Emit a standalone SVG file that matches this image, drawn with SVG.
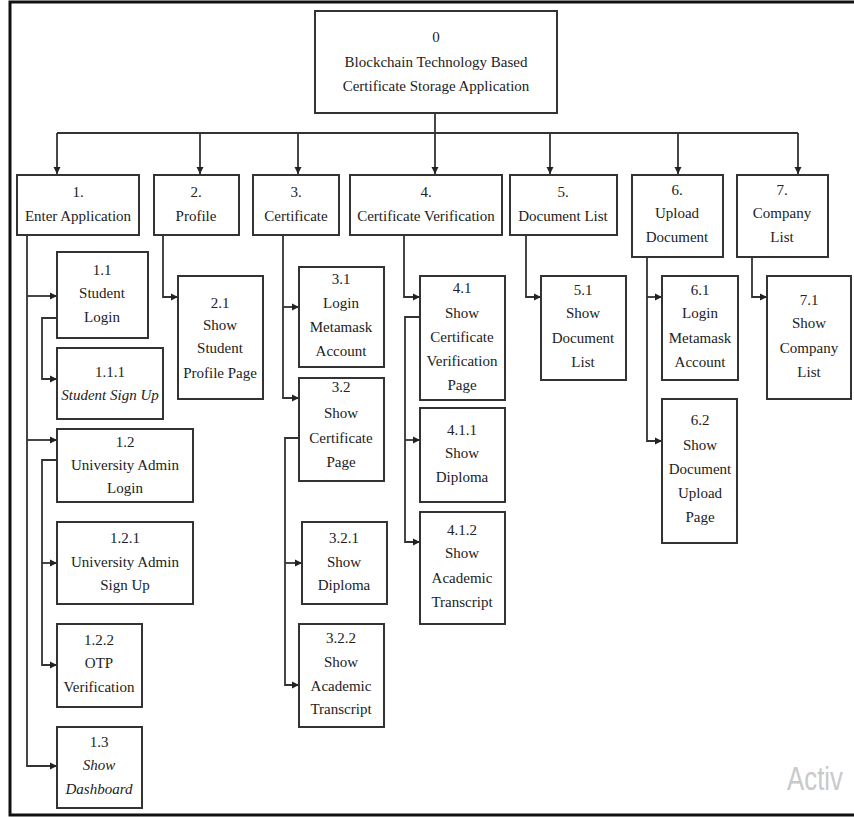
<svg xmlns="http://www.w3.org/2000/svg" width="854" height="817" viewBox="0 0 854 817">
<style>
.box{fill:#fff;stroke:#333;stroke-width:2}
.t{font-family:"Liberation Serif","Times New Roman",serif;font-size:15px;fill:#222;text-anchor:middle}
.i{font-style:italic}
.c{fill:none;stroke:#333;stroke-width:1.8}
.wm{font-family:"Liberation Sans","Open Sans",sans-serif;font-size:34px;fill:#c9c9c9}
</style>
<defs>
<marker id="ah" markerWidth="8" markerHeight="8" refX="7" refY="4" orient="auto" markerUnits="userSpaceOnUse">
<path d="M0,0.5 L7,4 L0,7.5 Z" fill="#222"/>
</marker>
</defs>
<rect x="10" y="2" width="860" height="813" fill="#fff" stroke="#111" stroke-width="3"/>
<g id="connectors">
<path class="c" d="M435 113 V133 M57 133 H798"/>
<path class="c" marker-end="url(#ah)" d="M57 133 V174"/>
<path class="c" marker-end="url(#ah)" d="M200 133 V174"/>
<path class="c" marker-end="url(#ah)" d="M298 133 V174"/>
<path class="c" marker-end="url(#ah)" d="M435 133 V174"/>
<path class="c" marker-end="url(#ah)" d="M550 133 V174"/>
<path class="c" marker-end="url(#ah)" d="M678 133 V174"/>
<path class="c" marker-end="url(#ah)" d="M798 133 V174"/>
<path class="c" marker-end="url(#ah)" d="M27 235 V766 H57"/>
<path class="c" marker-end="url(#ah)" d="M27 296 H57"/>
<path class="c" marker-end="url(#ah)" d="M27 440 H57"/>
<path class="c" marker-end="url(#ah)" d="M57 318 H42 V379 H57"/>
<path class="c" marker-end="url(#ah)" d="M57 460 H42 V665 H57"/>
<path class="c" marker-end="url(#ah)" d="M42 563 H57"/>
<path class="c" marker-end="url(#ah)" d="M163 235 V297 H178"/>
<path class="c" marker-end="url(#ah)" d="M283 235 V398 H299"/>
<path class="c" marker-end="url(#ah)" d="M283 307 H299"/>
<path class="c" marker-end="url(#ah)" d="M299 438 H285 V685 H299"/>
<path class="c" marker-end="url(#ah)" d="M285 563 H302"/>
<path class="c" marker-end="url(#ah)" d="M404 235 V297 H420"/>
<path class="c" marker-end="url(#ah)" d="M420 317 H405 V542 H420"/>
<path class="c" marker-end="url(#ah)" d="M405 440 H420"/>
<path class="c" marker-end="url(#ah)" d="M526 235 V297 H541"/>
<path class="c" marker-end="url(#ah)" d="M647 257 V441 H662"/>
<path class="c" marker-end="url(#ah)" d="M647 297 H662"/>
<path class="c" marker-end="url(#ah)" d="M752 257 V297 H767"/>
</g>
<g id="n0"><rect class="box" x="315" y="11" width="242" height="102"/>
<text class="t" x="436" y="42">0</text><text class="t" x="436" y="67">Blockchain Technology Based</text><text class="t" x="436" y="91">Certificate Storage Application</text></g>
<g id="n1"><rect class="box" x="17" y="175" width="122" height="60"/>
<text class="t" x="78" y="197">1.</text><text class="t" x="78" y="221">Enter Application</text></g>
<g id="n2"><rect class="box" x="154" y="175" width="85" height="60"/>
<text class="t" x="196" y="197">2.</text><text class="t" x="196" y="221">Profile</text></g>
<g id="n3"><rect class="box" x="253" y="175" width="86" height="60"/>
<text class="t" x="296" y="197">3.</text><text class="t" x="296" y="221">Certificate</text></g>
<g id="n4"><rect class="box" x="350" y="175" width="152" height="60"/>
<text class="t" x="426" y="197">4.</text><text class="t" x="426" y="221">Certificate Verification</text></g>
<g id="n5"><rect class="box" x="510" y="175" width="107" height="60"/>
<text class="t" x="563" y="197">5.</text><text class="t" x="563" y="221">Document List</text></g>
<g id="n6"><rect class="box" x="632" y="175" width="91" height="82"/>
<text class="t" x="677" y="195">6.</text><text class="t" x="677" y="218">Upload</text><text class="t" x="677" y="242">Document</text></g>
<g id="n7"><rect class="box" x="737" y="175" width="91" height="82"/>
<text class="t" x="782" y="195">7.</text><text class="t" x="782" y="218">Company</text><text class="t" x="782" y="242">List</text></g>
<g id="n1_1"><rect class="box" x="57" y="252" width="91" height="86"/>
<text class="t" x="102" y="275">1.1</text><text class="t" x="102" y="298">Student</text><text class="t" x="102" y="322">Login</text></g>
<g id="n1_1_1"><rect class="box" x="57" y="348" width="106" height="71"/>
<text class="t" x="110" y="377">1.1.1</text><text class="t i" x="110" y="400">Student Sign Up</text></g>
<g id="n1_2"><rect class="box" x="57" y="429" width="136" height="73"/>
<text class="t" x="125" y="447">1.2</text><text class="t" x="125" y="470">University Admin</text><text class="t" x="125" y="493">Login</text></g>
<g id="n1_2_1"><rect class="box" x="57" y="522" width="136" height="82"/>
<text class="t" x="125" y="543">1.2.1</text><text class="t" x="125" y="567">University Admin</text><text class="t" x="125" y="590">Sign Up</text></g>
<g id="n1_2_2"><rect class="box" x="57" y="624" width="85" height="83"/>
<text class="t" x="99" y="645">1.2.2</text><text class="t" x="99" y="668">OTP</text><text class="t" x="99" y="692">Verification</text></g>
<g id="n1_3"><rect class="box" x="57" y="727" width="85" height="81"/>
<text class="t" x="99" y="747">1.3</text><text class="t i" x="99" y="770">Show</text><text class="t i" x="99" y="794">Dashboard</text></g>
<g id="n2_1"><rect class="box" x="178" y="276" width="85" height="123"/>
<text class="t" x="220" y="308">2.1</text><text class="t" x="220" y="330">Show</text><text class="t" x="220" y="353">Student</text><text class="t" x="220" y="378">Profile Page</text></g>
<g id="n3_1"><rect class="box" x="299" y="267" width="85" height="100"/>
<text class="t" x="341" y="284">3.1</text><text class="t" x="341" y="308">Login</text><text class="t" x="341" y="332">Metamask</text><text class="t" x="341" y="356">Account</text></g>
<g id="n3_2"><rect class="box" x="299" y="378" width="85" height="103"/>
<text class="t" x="341" y="392">3.2</text><text class="t" x="341" y="418">Show</text><text class="t" x="341" y="443">Certificate</text><text class="t" x="341" y="467">Page</text></g>
<g id="n3_2_1"><rect class="box" x="302" y="522" width="85" height="82"/>
<text class="t" x="344" y="543">3.2.1</text><text class="t" x="344" y="567">Show</text><text class="t" x="344" y="590">Diploma</text></g>
<g id="n3_2_2"><rect class="box" x="299" y="624" width="85" height="103"/>
<text class="t" x="341" y="643">3.2.2</text><text class="t" x="341" y="667">Show</text><text class="t" x="341" y="691">Academic</text><text class="t" x="341" y="714">Transcript</text></g>
<g id="n4_1"><rect class="box" x="420" y="276" width="85" height="124"/>
<text class="t" x="462" y="293">4.1</text><text class="t" x="462" y="318">Show</text><text class="t" x="462" y="342">Certificate</text><text class="t" x="462" y="366">Verification</text><text class="t" x="462" y="390">Page</text></g>
<g id="n4_1_1"><rect class="box" x="420" y="408" width="85" height="94"/>
<text class="t" x="462" y="435">4.1.1</text><text class="t" x="462" y="458">Show</text><text class="t" x="462" y="482">Diploma</text></g>
<g id="n4_1_2"><rect class="box" x="420" y="512" width="85" height="112"/>
<text class="t" x="462" y="535">4.1.2</text><text class="t" x="462" y="558">Show</text><text class="t" x="462" y="583">Academic</text><text class="t" x="462" y="607">Transcript</text></g>
<g id="n5_1"><rect class="box" x="541" y="276" width="85" height="104"/>
<text class="t" x="583" y="295">5.1</text><text class="t" x="583" y="318">Show</text><text class="t" x="583" y="343">Document</text><text class="t" x="583" y="367">List</text></g>
<g id="n6_1"><rect class="box" x="662" y="276" width="76" height="104"/>
<text class="t" x="700" y="295">6.1</text><text class="t" x="700" y="318">Login</text><text class="t" x="700" y="343">Metamask</text><text class="t" x="700" y="367">Account</text></g>
<g id="n6_2"><rect class="box" x="662" y="399" width="75" height="144"/>
<text class="t" x="700" y="425">6.2</text><text class="t" x="700" y="450">Show</text><text class="t" x="700" y="474">Document</text><text class="t" x="700" y="498">Upload</text><text class="t" x="700" y="522">Page</text></g>
<g id="n7_1"><rect class="box" x="767" y="276" width="84" height="123"/>
<text class="t" x="809" y="305">7.1</text><text class="t" x="809" y="328">Show</text><text class="t" x="809" y="353">Company</text><text class="t" x="809" y="377">List</text></g>
<text class="wm" x="787" y="790" textLength="56" lengthAdjust="spacingAndGlyphs">Activ</text>
</svg>
